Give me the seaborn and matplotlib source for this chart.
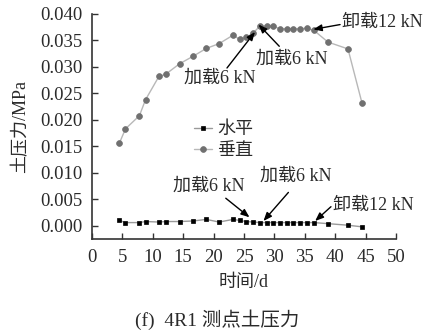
import matplotlib
matplotlib.use("Agg")
import matplotlib.pyplot as plt
import seaborn as sns
import pandas as pd
from matplotlib.ticker import FormatStrFormatter

# Measurement days
days = [4.5, 5.5, 7.8, 8.8, 11.0, 12.1, 14.4, 16.6, 18.8, 20.9, 23.2, 24.3, 25.4,
        26.5, 27.6, 28.7, 29.8, 30.9, 32.0, 33.1, 34.2, 35.3, 36.5, 38.8, 42.1, 44.4]

# Earth pressure (MPa)
horizontal = [0.0010, 0.0006, 0.0006, 0.0008, 0.0007, 0.0008, 0.0008, 0.0009, 0.0012,
              0.0007, 0.0012, 0.0010, 0.0008, 0.0007, 0.0006, 0.0006, 0.0006, 0.0006,
              0.0006, 0.0006, 0.0006, 0.0006, 0.0006, 0.0004, 0.0001, -0.0002]
vertical = [0.0156, 0.0183, 0.0208, 0.0238, 0.0282, 0.0286, 0.0306, 0.0320, 0.0335,
            0.0344, 0.0360, 0.0352, 0.0356, 0.0364, 0.0377, 0.0377, 0.0377, 0.0372,
            0.0372, 0.0372, 0.0372, 0.0373, 0.0369, 0.0347, 0.0334, 0.0232]

series_names = ["水平", "垂直"]
x_ticks = [0, 5, 10, 15, 20, 25, 30, 35, 40, 45, 50]
y_ticks = [0.000, 0.005, 0.010, 0.015, 0.020, 0.025, 0.030, 0.035, 0.040]

sns.set_style("ticks")
plt.rcParams["font.family"] = ["Liberation Serif", "Noto Sans CJK SC"]
plt.rcParams["axes.unicode_minus"] = False

TXT = "#2a2a2a"

fig = plt.figure(figsize=(4.29, 3.33), dpi=100)
ax = fig.add_axes([0.2145, 0.2823, 0.7086, 0.6757])

df_h = pd.DataFrame({"day": days, "p": horizontal})
df_v = pd.DataFrame({"day": days, "p": vertical})

sns.lineplot(data=df_h, x="day", y="p", ax=ax, color="#9a9a9a", lw=1.0,
             marker="s", markersize=3.3, markerfacecolor="black",
             markeredgecolor="black", markeredgewidth=0.5, label=series_names[0])
sns.lineplot(data=df_v, x="day", y="p", ax=ax, color="#b8b8b8", lw=1.0,
             marker="o", markersize=4.2, markerfacecolor="#707070",
             markeredgecolor="#707070", markeredgewidth=0.5, label=series_names[1])

ax.set_xlim(0, 50)
ax.set_ylim(-0.0025, 0.040)
ax.set_xticks(x_ticks)
ax.set_yticks(y_ticks)
ax.yaxis.set_major_formatter(FormatStrFormatter("%.3f"))

for s in ["top", "right"]:
    ax.spines[s].set_visible(False)
for s in ["left", "bottom"]:
    ax.spines[s].set_color("#333333")
    ax.spines[s].set_linewidth(1.2)

ax.tick_params(direction="in", length=4, width=1.0, color="#333333",
               labelsize=13.5, labelcolor=TXT)
ax.tick_params(axis="y", pad=7)
ax.tick_params(axis="x", pad=7)

ax.set_xlabel("时间/d", fontsize=13, color=TXT, labelpad=6)
ax.set_ylabel("土压力/MPa", fontsize=13, color=TXT, labelpad=8)

leg = ax.legend(loc="upper left", bbox_to_anchor=(0.335, 0.525), frameon=False,
                fontsize=13, handlelength=1.0, handletextpad=0.3,
                labelspacing=0.25, borderpad=0, borderaxespad=0)
for t in leg.get_texts():
    t.set_color(TXT)

arrow = dict(arrowstyle="-|>,head_length=0.5,head_width=0.2", color="black",
             lw=1.0, shrinkA=0, shrinkB=0)

# Load / unload notes: (text, text position, arrow tail, arrow head)
notes = [
    ("加载6 kN", (15.1, 0.0278), (22.2, 0.0298), (26.8, 0.0366)),
    ("加载6 kN", (26.9, 0.0314), (30.8, 0.0339), (27.4, 0.0380)),
    ("卸载12 kN", (41.1, 0.0384), (40.8, 0.0380), (36.4, 0.0371)),
    ("加载6 kN", (13.3, 0.0075), (22.0, 0.0052), (25.9, 0.0016)),
    ("加载6 kN", (27.6, 0.0093), (32.3, 0.0063), (28.2, 0.0009)),
    ("卸载12 kN", (39.6, 0.0039), (39.3, 0.0036), (36.7, 0.0009)),
]
for text, pos, tail, head in notes:
    ax.text(pos[0], pos[1], text, ha="left", va="center", fontsize=13,
            color=TXT)
    ax.annotate("", xy=head, xytext=tail, arrowprops=arrow)

fig.text(0.507, 0.04, "(f)  4R1 测点土压力", ha="center", va="center",
         fontsize=14, color=TXT)

fig.savefig("out.png", dpi=100)
